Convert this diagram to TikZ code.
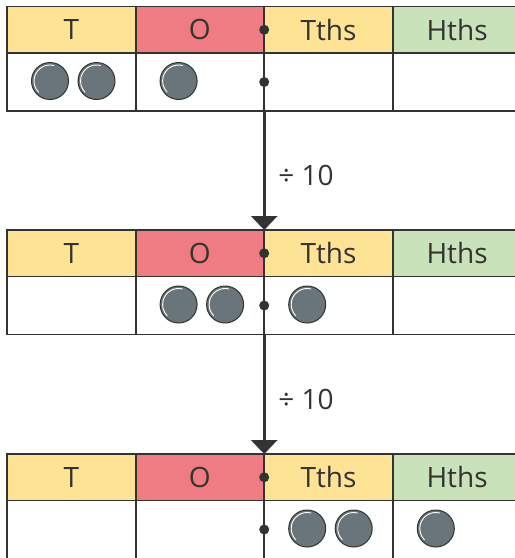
\documentclass[tikz,border=0pt]{standalone}
\usepackage{fontspec}
\setmainfont{Open Sans}
\usetikzlibrary{arrows.meta}
\definecolor{inkgrey}{HTML}{333333}
\definecolor{colT}{HTML}{FFE395}
\definecolor{colO}{HTML}{F07C83}
\definecolor{colH}{HTML}{C9E2B9}
\definecolor{ctrgrey}{HTML}{6A747B}
\tikzset{
  pv/.style={draw=inkgrey, line width=1.8pt, inner sep=0pt, outer sep=0pt, anchor=north west,
             minimum width=128.6pt, font=\fontsize{28}{32}\selectfont, text=inkgrey},
  pv head/.style={pv, minimum height=46.5pt},
  pv row/.style={pv, fill=white, minimum height=58pt},
  pv ctr/.style={circle, draw=inkgrey, line width=1pt, fill=ctrgrey, minimum size=37pt, inner sep=0pt,
                 path picture={\draw[white, line width=0.9pt]
                   ([shift={(75:16pt)}]path picture bounding box.center) arc (75:225:16pt);}},
  pv dot/.style={circle, fill=inkgrey, minimum size=10pt, inner sep=0pt},
  pv arr/.style={-{Triangle[width=26pt,length=14pt]}, line width=3pt, inkgrey},
  pv lab/.style={font=\fontsize{28}{32}\selectfont, text=inkgrey},
}
\begin{document}
\begin{tikzpicture}[x=1pt, y=-1pt]
  \clip (0,0) rectangle (515,558);
  % the three place value charts
  \foreach \k/\ty in {1/6.5, 2/230, 3/454} {
    \foreach \c/\col [count=\i from 0] in {T/colT, O/colO, Tths/colT, Hths/colH} {
      \node[pv head, fill=\col] (h\k\c) at (7+128.6*\i, \ty) {\c};
      \node[pv row] (r\k\c) at (7+128.6*\i, \ty+46.5) {};
    }
    % decimal point
    \node[pv dot] (d\k h) at (h\k O.east) {};
    \node[pv dot] (d\k r) at (r\k O.east) {};
  }
  % counters
  \foreach \n/\cell/\dx in {c1a/r1T/43, c1b/r1T/89.5, c1c/r1O/43,
                            c2a/r2O/43, c2b/r2O/89.5, c2c/r2Tths/43,
                            c3a/r3Tths/43, c3b/r3Tths/89.5, c3c/r3Hths/43}
    \node[pv ctr] (\n) at ([xshift=\dx pt, yshift=1pt]\cell.west) {};
  % dividing by ten
  \draw[pv arr] (r1O.south east) -- (h2O.north east);
  \node[pv lab] (div1) at (306,175) {÷ 10};
  \draw[pv arr] (r2O.south east) -- (h3O.north east);
  \node[pv lab] (div2) at (306,399) {÷ 10};
\end{tikzpicture}
\end{document}
